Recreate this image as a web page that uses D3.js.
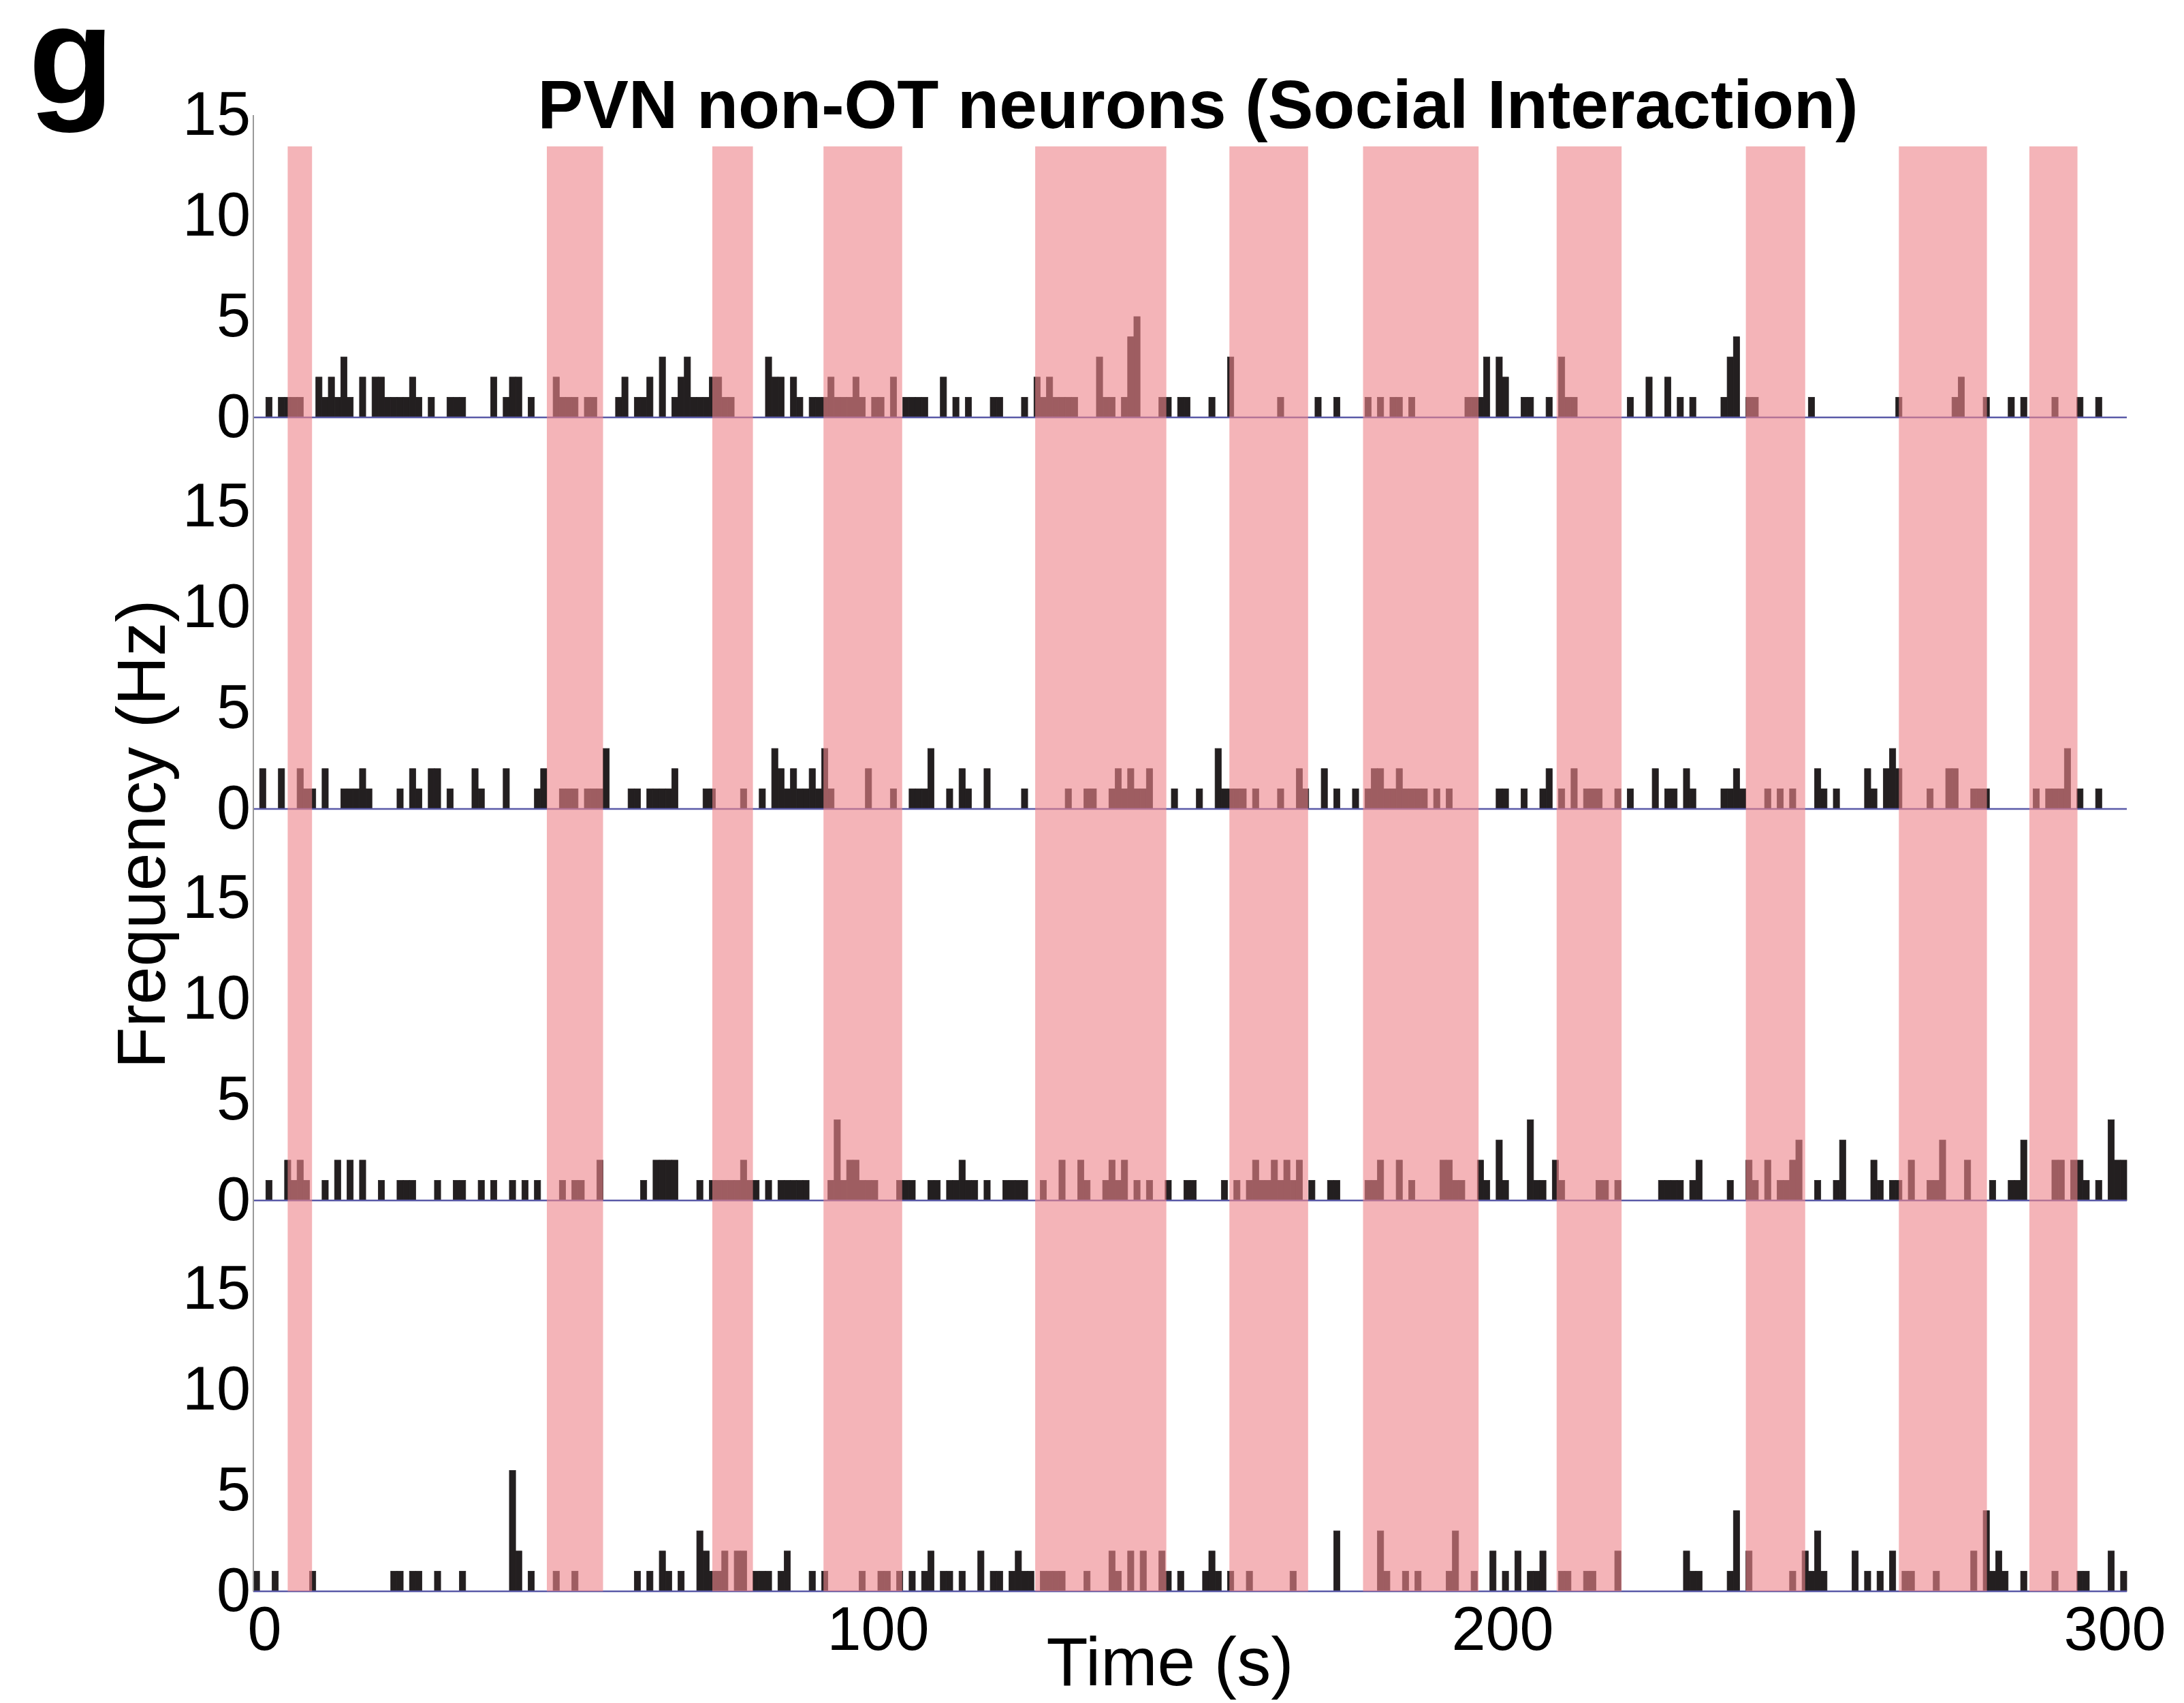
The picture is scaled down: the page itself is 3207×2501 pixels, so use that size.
<!DOCTYPE html>
<html>
<head>
<meta charset="utf-8">
<script src="https://cdn.jsdelivr.net/npm/d3@7"></script>
<style>
  body { margin: 0; background: #fff; }
  text { font-family: "Liberation Sans", Arial, sans-serif; fill: #000; }
</style>
</head>
<body>
<div id="chart"></div>
<script>
// spike counts in 1 s bins: [second, Hz]
const neuron1 = [[2,1],[4,1],[5,1],[6,1],[7,1],[10,2],[11,1],[12,2],[13,1],[14,3],[15,1],[17,2],[19,2],[20,2],[21,1],[22,1],[23,1],[24,1],[25,2],[26,1],[28,1],[31,1],[32,1],[33,1],[38,2],[40,1],[41,2],[42,2],[44,1],[48,2],[49,1],[50,1],[51,1],[53,1],[54,1],[58,1],[59,2],[61,1],[62,1],[63,2],[65,3],[67,1],[68,2],[69,3],[70,1],[71,1],[72,1],[73,2],[74,2],[75,1],[76,1],[82,3],[83,2],[84,2],[86,2],[87,1],[89,1],[90,1],[91,1],[92,2],[93,1],[94,1],[95,1],[96,2],[97,1],[99,1],[100,1],[102,2],[104,1],[105,1],[106,1],[107,1],[110,2],[112,1],[114,1],[118,1],[119,1],[123,1],[125,2],[126,1],[127,2],[128,1],[129,1],[130,1],[131,1],[135,3],[136,1],[137,1],[139,1],[140,4],[141,5],[145,1],[146,1],[148,1],[149,1],[153,1],[156,3],[164,1],[170,1],[173,1],[178,1],[180,1],[182,1],[183,1],[185,1],[194,1],[195,1],[196,1],[197,3],[199,3],[200,2],[203,1],[204,1],[207,1],[209,3],[210,1],[211,1],[220,1],[223,2],[226,2],[228,1],[230,1],[235,1],[236,3],[237,4],[239,1],[240,1],[249,1],[263,1],[272,1],[273,2],[277,1],[281,1],[283,1],[288,1],[292,1],[295,1]];
const neuron2 = [[1,2],[4,2],[7,2],[8,1],[9,1],[11,2],[14,1],[15,1],[16,1],[17,2],[18,1],[23,1],[25,2],[26,1],[28,2],[29,2],[31,1],[35,2],[36,1],[40,2],[45,1],[46,2],[49,1],[50,1],[51,1],[53,1],[54,1],[55,1],[56,3],[60,1],[61,1],[63,1],[64,1],[65,1],[66,1],[67,2],[72,1],[73,1],[78,1],[81,1],[83,3],[84,2],[85,1],[86,2],[87,1],[88,1],[89,2],[90,1],[91,3],[92,1],[98,2],[102,1],[105,1],[106,1],[107,1],[108,3],[111,1],[113,2],[114,1],[117,2],[123,1],[130,1],[133,1],[134,1],[137,1],[138,2],[139,1],[140,2],[141,1],[142,1],[143,2],[147,1],[151,1],[154,3],[155,1],[156,1],[157,1],[158,1],[160,1],[164,1],[167,2],[168,1],[171,2],[173,1],[176,1],[178,1],[179,2],[180,2],[181,1],[182,1],[183,2],[184,1],[185,1],[186,1],[187,1],[189,1],[191,1],[199,1],[200,1],[203,1],[206,1],[207,2],[209,1],[211,2],[213,1],[214,1],[215,1],[218,1],[220,1],[224,2],[226,1],[227,1],[229,2],[230,1],[235,1],[236,1],[237,2],[238,1],[242,1],[244,1],[246,1],[250,2],[251,1],[253,1],[258,2],[259,1],[261,2],[262,3],[263,2],[268,1],[271,2],[272,2],[275,1],[276,1],[277,1],[285,1],[287,1],[288,1],[289,1],[290,3],[292,1],[295,1]];
const neuron3 = [[2,1],[5,2],[6,1],[7,2],[8,1],[11,1],[13,2],[15,2],[17,2],[20,1],[23,1],[24,1],[25,1],[29,1],[32,1],[33,1],[36,1],[38,1],[41,1],[43,1],[45,1],[49,1],[51,1],[52,1],[55,2],[62,1],[64,2],[65,2],[66,2],[67,2],[71,1],[73,1],[74,1],[75,1],[76,1],[77,1],[78,2],[79,1],[80,1],[82,1],[84,1],[85,1],[86,1],[87,1],[88,1],[92,1],[93,4],[94,1],[95,2],[96,2],[97,1],[98,1],[99,1],[103,1],[104,1],[105,1],[108,1],[109,1],[111,1],[112,1],[113,2],[114,1],[115,1],[117,1],[120,1],[121,1],[122,1],[123,1],[126,1],[129,2],[132,2],[133,1],[136,1],[137,2],[138,1],[139,2],[141,1],[143,1],[146,1],[149,1],[150,1],[155,1],[157,1],[159,1],[160,2],[161,1],[162,1],[163,2],[164,1],[165,2],[166,1],[167,2],[169,1],[172,1],[173,1],[178,1],[179,1],[180,2],[183,2],[185,1],[190,2],[191,2],[192,1],[193,1],[196,2],[197,1],[199,3],[200,1],[204,4],[205,1],[206,1],[208,2],[209,1],[215,1],[216,1],[218,1],[225,1],[226,1],[227,1],[228,1],[230,1],[231,2],[236,1],[239,2],[240,1],[242,2],[244,1],[245,1],[246,2],[247,3],[250,1],[253,1],[254,3],[259,2],[260,1],[262,1],[263,1],[265,2],[268,1],[269,1],[270,3],[274,2],[278,1],[281,1],[282,1],[283,3],[288,2],[289,2],[291,2],[292,2],[293,1],[295,1],[297,4],[298,2],[299,2]];
const neuron4 = [[0,1],[3,1],[9,1],[22,1],[23,1],[25,1],[26,1],[29,1],[33,1],[41,6],[42,2],[44,1],[48,1],[51,1],[61,1],[63,1],[65,2],[66,1],[68,1],[71,3],[72,2],[73,1],[74,1],[75,2],[77,2],[78,2],[80,1],[81,1],[82,1],[84,1],[85,2],[89,1],[91,1],[97,1],[100,1],[101,1],[103,1],[105,1],[107,1],[108,2],[110,1],[111,1],[113,1],[116,2],[118,1],[119,1],[121,1],[122,2],[123,1],[124,1],[126,1],[127,1],[128,1],[129,1],[133,1],[137,2],[138,1],[140,2],[142,2],[145,2],[146,1],[148,1],[152,1],[153,2],[154,1],[156,1],[159,1],[166,1],[173,3],[180,3],[181,1],[184,1],[186,1],[191,1],[192,3],[195,1],[198,2],[200,1],[202,2],[204,1],[205,1],[206,2],[209,1],[210,1],[213,1],[214,1],[218,2],[229,2],[230,1],[231,1],[236,1],[237,4],[239,2],[246,1],[248,2],[249,1],[250,3],[251,1],[256,2],[258,1],[260,1],[262,2],[264,1],[265,1],[269,1],[275,2],[277,4],[278,1],[279,2],[280,1],[283,1],[288,1],[292,1],[293,1],[297,2],[299,1]];

// social interaction bouts (s)
const boutStart = [5.5, 47, 73.5, 91.3, 125.2, 156.3, 177.7, 208.7, 239, 263.5, 284.4];
const boutEnd = [9.4, 56, 80, 103.9, 146.2, 168.9, 196.2, 219.1, 248.5, 277.6, 292.1];

const xTicks = [0, 100, 200, 300];
const yTicks = [0, 5, 10, 15];

const width = 3207;
const height = 2501;
const panels = [neuron1, neuron2, neuron3, neuron4];
const zeros = [613, 1188, 1763, 2337];

const svg = d3.select('#chart')
  .append('svg')
  .attr('width', width)
  .attr('height', height)
  .style('background', '#fff');

const x = d3.scaleLinear().domain([0, 300]).range([372, 3123]);

panels.forEach((data, i) => {
  const y = d3.scaleLinear().domain([0, 15]).range([zeros[i], zeros[i] - 444]);

  svg.append('g')
    .selectAll('rect')
    .data(data)
    .enter()
    .append('rect')
    .attr('x', d => x(d[0]))
    .attr('width', d => x(d[0] + 1) - x(d[0]))
    .attr('y', d => y(d[1]))
    .attr('height', d => y(0) - y(d[1]))
    .attr('fill', '#231f20')
    .attr('stroke', '#231f20')
    .attr('stroke-width', 0.8);

  svg.append('line')
    .attr('x1', x(0)).attr('x2', x(300))
    .attr('y1', y(0)).attr('y2', y(0))
    .attr('stroke', '#5a5aa8')
    .attr('stroke-width', 2.5);

  const yAxis = svg.append('g')
    .attr('transform', `translate(${x(0) - 4},0)`)
    .call(d3.axisLeft(y).tickValues(yTicks).tickSize(0).tickPadding(0));
  yAxis.select('.domain').remove();
  yAxis.selectAll('text')
    .style('font-size', '90px')
    .style('font-family', '"Liberation Sans", Arial, sans-serif')
    .attr('fill', '#000');
});

// pink bouts drawn over the bars
svg.append('g')
  .selectAll('rect')
  .data(boutStart)
  .enter()
  .append('rect')
  .attr('x', (d, i) => x(d))
  .attr('width', (d, i) => x(boutEnd[i]) - x(d))
  .attr('y', 215)
  .attr('height', zeros[3] - 215)
  .attr('fill', 'rgb(237,132,139)')
  .attr('opacity', 0.61);

svg.append('line')
  .attr('x1', x(0)).attr('x2', x(0))
  .attr('y1', zeros[0] - 444).attr('y2', zeros[3])
  .attr('stroke', '#999')
  .attr('stroke-width', 2);

const xAxis = svg.append('g')
  .attr('transform', `translate(0,${zeros[3]})`)
  .call(d3.axisBottom(x).tickValues(xTicks).tickSize(0).tickPadding(22));
xAxis.select('.domain').remove();
xAxis.selectAll('text')
  .style('font-size', '90px')
  .style('font-family', '"Liberation Sans", Arial, sans-serif')
  .attr('fill', '#000')
  .attr('dx', d => d === 0 ? 16 : d === 300 ? -18 : 0);

svg.append('text')
  .attr('x', 1718)
  .attr('y', 2475)
  .attr('text-anchor', 'middle')
  .style('font-size', '100px')
  .text('Time (s)');

svg.append('text')
  .attr('transform', 'translate(242,1225) rotate(-90)')
  .attr('text-anchor', 'middle')
  .style('font-size', '100px')
  .text('Frequency (Hz)');

svg.append('text')
  .attr('x', 1759)
  .attr('y', 188)
  .attr('text-anchor', 'middle')
  .style('font-size', '100px')
  .style('font-weight', 'bold')
  .text('PVN non-OT neurons (Social Interaction)');

svg.append('text')
  .attr('x', 42)
  .attr('y', 152)
  .style('font-size', '205px')
  .style('font-weight', 'bold')
  .text('g');
</script>
</body>
</html>
